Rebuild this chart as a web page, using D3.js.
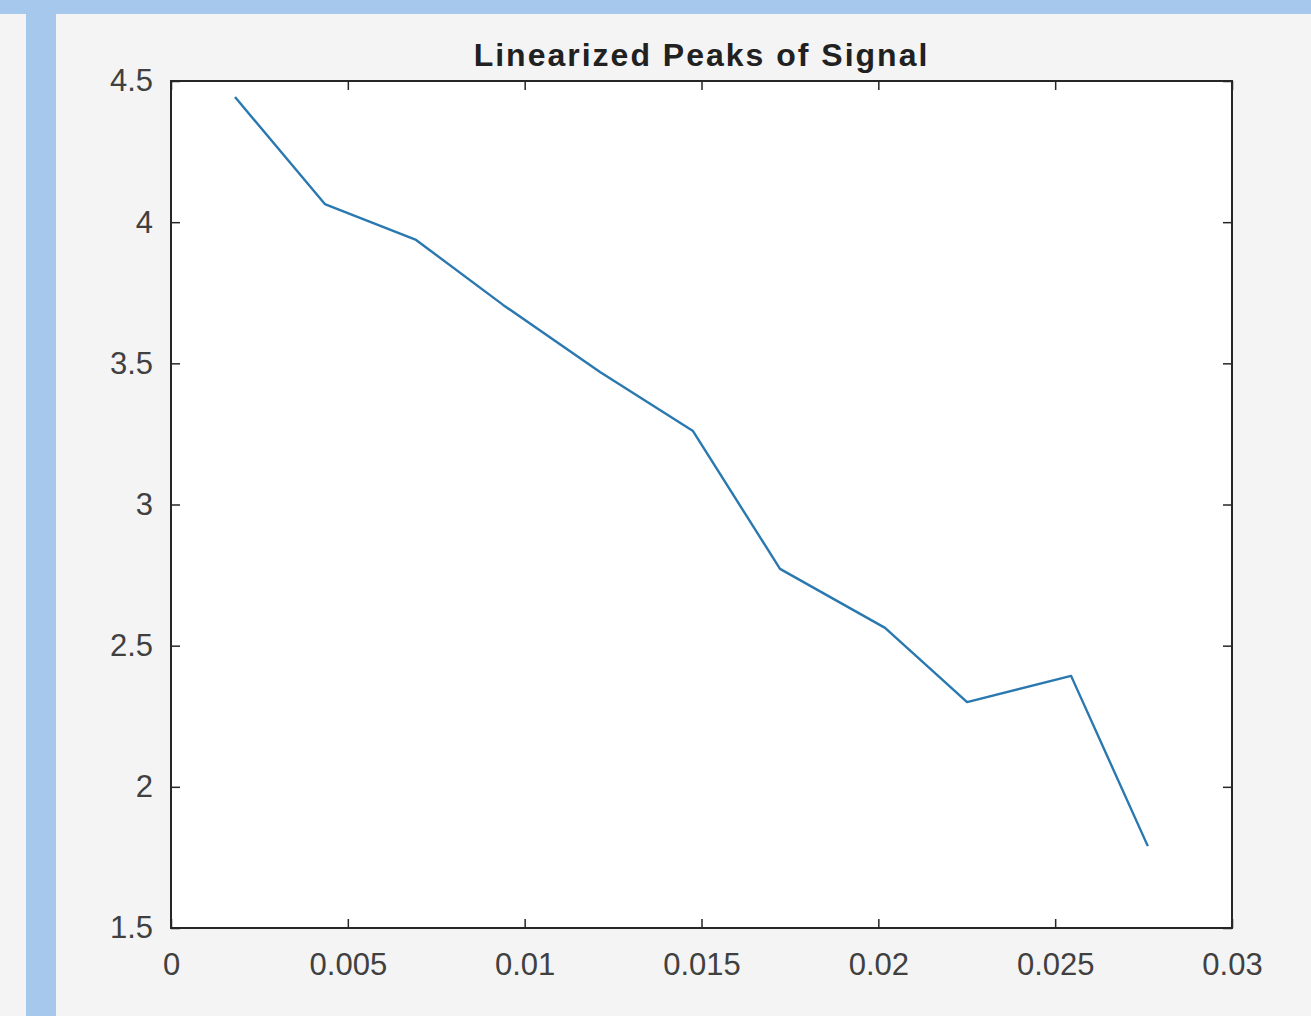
<!DOCTYPE html>
<html>
<head>
<meta charset="utf-8">
<script src="https://cdn.jsdelivr.net/npm/d3@7"></script>
<style>
  html, body { margin: 0; padding: 0; background: #f4f4f4; }
  svg { display: block; }
</style>
</head>
<body>
<svg id="chart" width="1311" height="1016"></svg>
<script>
const title = "Linearized Peaks of Signal";
const xValues = [0.00181, 0.00435, 0.00693, 0.00939, 0.01213, 0.01476, 0.01722, 0.02019, 0.02251, 0.02545, 0.02762];
const yValues = [4.443, 4.064, 3.937, 3.707, 3.469, 3.260, 2.772, 2.563, 2.300, 2.393, 1.790];
const xTicks = [0, 0.005, 0.01, 0.015, 0.02, 0.025, 0.03];
const yTicks = [1.5, 2, 2.5, 3, 3.5, 4, 4.5];
const xTickLabels = ["0", "0.005", "0.01", "0.015", "0.02", "0.025", "0.03"];
const yTickLabels = ["1.5", "2", "2.5", "3", "3.5", "4", "4.5"];

const W = 1311, H = 1016;
const L = 171, R = 1232, T = 81, B = 928;
const svg = d3.select("#chart");

// window frame decoration
svg.append("rect").attr("x", 0).attr("y", 0).attr("width", W).attr("height", H).attr("fill", "#f4f4f4");
svg.append("rect").attr("x", 0).attr("y", 0).attr("width", W).attr("height", 14).attr("fill", "#a6c8ec");
svg.append("rect").attr("x", 26).attr("y", 0).attr("width", 30).attr("height", H).attr("fill", "#a6c8ec");

const x = d3.scaleLinear().domain([0, 0.03]).range([L, R]);
const y = d3.scaleLinear().domain([1.5, 4.5]).range([B, T]);

svg.append("rect").attr("x", L).attr("y", T).attr("width", R - L).attr("height", B - T).attr("fill", "#ffffff");

const fontFam = "'Liberation Sans', Arial, Helvetica, sans-serif";
const tickLen = 9;
const axisColor = "#262626";

function styleAxis(g) {
  g.select(".domain").remove();
  g.selectAll(".tick line").attr("stroke", axisColor).attr("stroke-width", 1.5);
  g.selectAll(".tick text").attr("fill", "#404040").attr("font-family", fontFam).attr("font-size", 31);
}

// bottom axis
svg.append("g").attr("transform", `translate(0,${B})`)
  .call(d3.axisBottom(x).tickValues(xTicks).tickFormat((d, i) => xTickLabels[i]).tickSizeInner(-tickLen).tickSizeOuter(0).tickPadding(25))
  .call(styleAxis);
// top axis (ticks only)
svg.append("g").attr("transform", `translate(0,${T})`)
  .call(d3.axisTop(x).tickValues(xTicks).tickFormat("").tickSizeInner(-tickLen).tickSizeOuter(0))
  .call(styleAxis);
// left axis
svg.append("g").attr("transform", `translate(${L},0)`)
  .call(d3.axisLeft(y).tickValues(yTicks).tickFormat((d, i) => yTickLabels[i]).tickSizeInner(-tickLen).tickSizeOuter(0).tickPadding(18))
  .call(styleAxis);
// right axis (ticks only)
svg.append("g").attr("transform", `translate(${R},0)`)
  .call(d3.axisRight(y).tickValues(yTicks).tickFormat("").tickSizeInner(-tickLen).tickSizeOuter(0))
  .call(styleAxis);

// box
svg.append("rect").attr("x", L).attr("y", T).attr("width", R - L).attr("height", B - T)
  .attr("fill", "none").attr("stroke", axisColor).attr("stroke-width", 2);

// line
const data = xValues.map((v, i) => [v, yValues[i]]);
svg.append("path").datum(data)
  .attr("fill", "none").attr("stroke", "#2a78b0").attr("stroke-width", 2.4)
  .attr("stroke-linejoin", "round")
  .attr("d", d3.line().x(d => x(d[0])).y(d => y(d[1])));

// title
svg.append("text").attr("x", (L + R) / 2).attr("y", 66)
  .attr("text-anchor", "middle").attr("font-family", fontFam).attr("font-weight", "bold")
  .attr("font-size", 32).attr("letter-spacing", 2).attr("fill", "#212121").text(title);
</script>
</body>
</html>
